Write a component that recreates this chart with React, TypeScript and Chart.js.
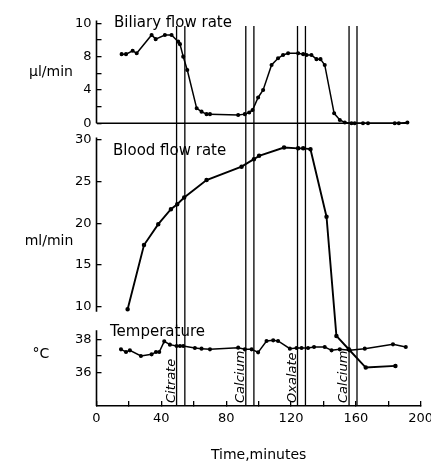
import { useEffect, useRef } from "react";
import { Chart, registerables } from "chart.js";

Chart.register(...registerables);

// ---- data (minutes) ----
const biliaryTime = [15.5, 18.2, 22.3, 24.8, 34.0, 36.5, 42.2, 46.3, 50.4, 51.5, 53.5, 56.0, 61.8, 64.8, 67.9, 70.0, 87.4, 91.5, 94.2, 96.3, 99.7, 102.8, 108.0, 112.0, 115.1, 118.2, 124.4, 127.5, 129.6, 132.6, 135.7, 138.2, 140.8, 146.6, 150.1, 153.2, 157.3, 159.3, 164.4, 167.5, 184.0, 186.5, 191.8];
const biliaryValue = [8.3, 8.3, 8.7, 8.4, 10.6, 10.1, 10.6, 10.6, 9.8, 9.5, 8.0, 6.4, 1.8, 1.4, 1.1, 1.1, 1.0, 1.1, 1.3, 1.6, 3.1, 4.0, 7.0, 7.8, 8.2, 8.4, 8.4, 8.3, 8.2, 8.2, 7.7, 7.7, 7.0, 1.2, 0.4, 0.1, 0, 0, 0, 0, 0, 0, 0.1];

const bloodTime = [19.2, 29.3, 38.1, 45.9, 49.8, 54.1, 67.9, 89.5, 97.1, 100.3, 115.7, 124.4, 127.5, 132.0, 141.9, 148.0, 155.6, 166.1, 184.4];
const bloodValue = [9.7, 17.4, 19.9, 21.7, 22.3, 23.1, 25.2, 26.8, 27.7, 28.1, 29.1, 29.0, 29.0, 28.9, 20.8, 6.5, 4.9, 2.7, 2.9];

const tempTime = [15.1, 18.2, 20.6, 27.4, 34.0, 36.7, 38.7, 41.8, 45.3, 49.4, 51.5, 53.5, 60.7, 64.8, 70.0, 87.4, 91.5, 95.7, 99.7, 104.9, 109.0, 112.0, 119.3, 123.4, 126.5, 130.5, 134.2, 140.8, 145.0, 150.1, 156.2, 165.5, 182.9, 190.8];
const tempValue = [37.4, 37.24, 37.34, 37.0, 37.1, 37.24, 37.24, 37.88, 37.68, 37.6, 37.6, 37.6, 37.48, 37.44, 37.4, 37.5, 37.4, 37.4, 37.22, 37.9, 37.94, 37.9, 37.44, 37.48, 37.48, 37.48, 37.54, 37.54, 37.34, 37.4, 37.34, 37.44, 37.7, 37.54];

const treatmentLabels = ["Citrate", "Calcium", "Oxalate", "Calcium"];
const treatmentStart = [49.4, 92.1, 124.0, 155.8];
const treatmentEnd = [54.5, 97.1, 128.9, 160.7];

// ---- ticks ----
const xTicks = [0, 20, 40, 60, 80, 100, 120, 140, 160, 180, 200];
const xTickLabels = ["0", "", "40", "", "80", "", "120", "", "160", "", "200"];
const biliaryTicks = [0, 2, 4, 6, 8, 10, 12];
const biliaryTickLabels = ["0", "", "4", "", "8", "", "10"];
const bloodTicks = [10, 15, 20, 25, 30];
const bloodTickLabels = ["10", "15", "20", "25", "30"];
const tempTicks = [36, 37, 38];
const tempTickLabels = ["36", "", "38"];

const FONT = '"DejaVu Sans", sans-serif';
const INK = "#000";
const TICK_SIZE = 13;

export default function App() {
  const ref = useRef<HTMLCanvasElement>(null);

  useEffect(() => {
    const canvas = ref.current;
    if (!canvas) return;

    const mctx = document.createElement("canvas").getContext("2d") as CanvasRenderingContext2D;
    mctx.font = `${TICK_SIZE}px ${FONT}`;
    const twoDigit = mctx.measureText("30").width;

    const pts = (xs: number[], ys: number[]) => xs.map((x, i) => ({ x, y: ys[i] }));
    const series = {
      type: "line" as const,
      borderColor: INK,
      backgroundColor: INK,
      pointRadius: 1.3,
      pointHoverRadius: 1.3,
      borderWidth: 1.5,
      tension: 0,
      fill: false,
    };

    const vLines: any[] = [];
    treatmentStart.forEach((t, i) => {
      [t, treatmentEnd[i]].forEach((tt) => {
        vLines.push({
          type: "line",
          label: treatmentLabels[i],
          data: [{ x: tt, y: 0 }, { x: tt, y: 0.993 }],
          borderColor: INK,
          borderWidth: 1.3,
          pointRadius: 0,
          yAxisID: "yV",
        });
      });
    });

    const yScale = (min: number, max: number, ticks: number[], labels: string[], weight: number, w: number, mirror: boolean) => ({
      type: "linear",
      position: "left",
      min,
      max,
      bounds: "data",
      weight,
      border: { display: false },
      grid: { display: true, drawOnChartArea: false, drawTicks: true, tickLength: -5, color: INK, lineWidth: 1.3 },
      ticks: {
        autoSkip: false,
        mirror,
        crossAlign: "near",
        padding: mirror ? -(5 + twoDigit) : 10,
        color: INK,
        font: { family: FONT, size: TICK_SIZE },
        callback: (v: number) => {
          const i = ticks.indexOf(v);
          return i >= 0 ? labels[i] : "";
        },
      },
      afterBuildTicks: (s: any) => {
        s.ticks = ticks.map((v) => ({ value: v }));
      },
      afterFit: (s: any) => {
        s.width = w;
        s.paddingTop = 0;
        s.paddingBottom = 0;
      },
    });

    const overlay = {
      id: "overlay",
      afterDraw(chart: any) {
        const ctx = chart.ctx;
        const xs = chart.scales.x;
        const yB = chart.scales.yB;
        const yF = chart.scales.yF;
        const yT = chart.scales.yT;
        const x0 = xs.getPixelForValue(0);
        ctx.save();
        ctx.strokeStyle = INK;
        ctx.lineWidth = 1.6;
        ctx.beginPath();
        ctx.moveTo(x0, yB.getPixelForValue(0));
        ctx.lineTo(x0, yB.getPixelForValue(12.35));
        ctx.moveTo(x0, yF.getPixelForValue(9.4));
        ctx.lineTo(x0, yF.getPixelForValue(30.3));
        ctx.moveTo(x0, yT.getPixelForValue(34));
        ctx.lineTo(x0, yT.getPixelForValue(38.55));
        ctx.moveTo(x0, yB.getPixelForValue(0));
        ctx.lineTo(xs.getPixelForValue(biliaryTime[biliaryTime.length - 1]), yB.getPixelForValue(0));
        ctx.stroke();

        ctx.fillStyle = INK;
        ctx.textAlign = "left";
        ctx.textBaseline = "alphabetic";
        ctx.font = `15px ${FONT}`;
        ctx.fillText("Biliary flow rate", 114, 26.7);
        ctx.fillText("Blood flow rate", 113, 154.5);
        ctx.fillText("Temperature", 110, 336);

        ctx.textAlign = "center";
        ctx.textBaseline = "middle";
        ctx.font = `14px ${FONT}`;
        ctx.fillText("\u03bcl/min", 51, 72);
        ctx.fillText("ml/min", 49, 241);
        ctx.fillText("\u00b0C", 41, 354);

        ctx.font = `italic 13px ${FONT}`;
        ctx.textAlign = "left";
        ctx.textBaseline = "alphabetic";
        const yBase = chart.chartArea.bottom - 3;
        treatmentStart.forEach((t, i) => {
          const px = xs.getPixelForValue(t) - 2;
          ctx.save();
          ctx.translate(px, yBase);
          ctx.rotate(-Math.PI / 2);
          ctx.fillText(treatmentLabels[i], 0, 0);
          ctx.restore();
        });
        ctx.restore();
      },
    };

    const chart = new Chart(canvas, {
      type: "line",
      data: {
        datasets: [
          { ...series, label: "Biliary flow rate", data: pts(biliaryTime, biliaryValue), yAxisID: "yB" },
          { ...series, label: "Blood flow rate", data: pts(bloodTime, bloodValue), yAxisID: "yF", borderWidth: 1.9 },
          { ...series, label: "Temperature", data: pts(tempTime, tempValue), yAxisID: "yT" },
          ...vLines,
        ],
      },
      options: {
        responsive: false,
        animation: false,
        events: [],
        layout: { padding: { top: 23.3, left: 0, right: 10.3, bottom: 0 } },
        plugins: { legend: { display: false }, tooltip: { enabled: false }, title: { display: false } },
        scales: {
          x: {
            type: "linear",
            position: "bottom",
            min: 0,
            max: 200,
            bounds: "data",
            border: { display: true, color: INK, width: 1.6 },
            grid: { display: true, drawOnChartArea: false, drawTicks: true, tickLength: -5, color: INK, lineWidth: 1.3 },
            ticks: {
              autoSkip: false,
              maxRotation: 0,
              padding: 10,
              color: INK,
              font: { family: FONT, size: TICK_SIZE },
              callback: (v: number) => {
                const i = xTicks.indexOf(v);
                return i >= 0 ? xTickLabels[i] : "";
              },
            },
            title: {
              display: true,
              text: "Time,minutes",
              color: INK,
              font: { family: FONT, size: 14 },
              padding: { top: 0, bottom: 0 },
            },
            afterBuildTicks: (s: any) => {
              s.ticks = xTicks.map((v) => ({ value: v }));
            },
            afterFit: (s: any) => {
              s.height = 58;
              s.paddingLeft = 0;
              s.paddingRight = 0;
            },
          },
          yB: yScale(-33.92, 12, biliaryTicks, biliaryTickLabels, 10, 96.5, false),
          yF: yScale(-1.91, 44.0, bloodTicks, bloodTickLabels, 0, 0, true),
          yT: yScale(34, 56.96, tempTicks, tempTickLabels, 0, 0, true),
          yV: { type: "linear", display: false, min: 0, max: 1 },
        },
      } as any,
      plugins: [overlay],
    });

    return () => chart.destroy();
  }, []);

  return (
    <div style={{ position: "absolute", left: 0, top: 0, width: 431, height: 464, background: "#fff" }}>
      <canvas ref={ref} width={431} height={464} style={{ display: "block" }} />
    </div>
  );
}
